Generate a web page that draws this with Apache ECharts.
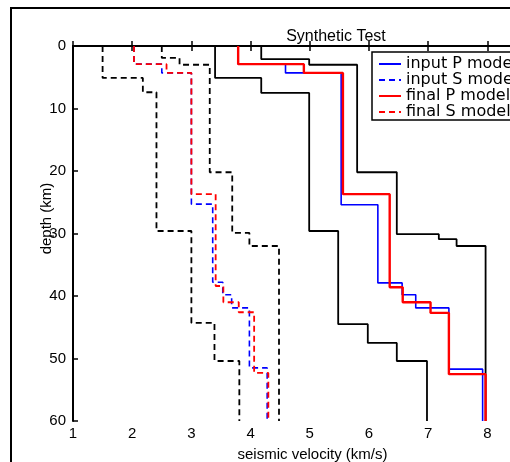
<!DOCTYPE html>
<html>
<head>
<meta charset="utf-8">
<script src="https://cdn.jsdelivr.net/npm/echarts@6/dist/echarts.min.js"></script>
<style>
    html, body { margin: 0; padding: 0; background: #fff; }
    #chart { width: 510px; height: 462px; }
</style>
</head>
<body>
<div id="chart"></div>
<script>
// layer velocities (km/s) and layer boundaries (km)
const inputPVel = [3.79, 4.59, 5.53, 6.15, 6.56, 6.79, 7.35, 7.92]
const inputPDepth = [0, 2.9, 4.3, 25.4, 37.9, 39.8, 41.9, 51.7, 60]
const finalPVel = [3.79, 4.9, 5.56, 6.35, 6.57, 7.04, 7.35, 7.97]
const finalPDepth = [0, 2.9, 4.3, 23.7, 38.6, 41.0, 42.7, 52.5, 60]
const inputSVel = [2.03, 2.5, 3.0, 3.36, 3.53, 3.68, 3.98, 4.28]
const inputSDepth = [0, 2.9, 4.3, 25.3, 37.8, 39.8, 41.9, 51.5, 60]
const finalSVel = [2.03, 2.58, 3.0, 3.41, 3.54, 3.8, 4.06, 4.3]
const finalSDepth = [0, 2.9, 4.3, 23.7, 38.4, 41.0, 42.6, 52.3, 60]
// search bounds
const pMinVel = [3.4, 4.18, 4.99, 5.48, 5.98, 6.47, 6.98]
const pMinDepth = [0, 5.1, 7.5, 29.6, 44.5, 47.5, 50.4, 60]
const pMaxVel = [4.18, 4.99, 5.8, 6.47, 7.18, 7.48, 7.97]
const pMaxDepth = [0, 2.1, 3.0, 20.2, 30.1, 30.9, 32.0, 60]
const sMinVel = [1.5, 2.18, 2.41, 3.0, 3.39, 3.81]
const sMinDepth = [0, 5.1, 7.4, 29.6, 44.3, 50.4, 60]
const sMaxVel = [2.5, 2.8, 3.31, 3.69, 3.98, 4.48]
const sMaxDepth = [0, 1.9, 3.0, 20.2, 29.9, 32.0, 60]

const legendNames = ['input P model', 'input S model', 'final P model', 'final S model']
const fontFamily = 'Liberation Sans, Arial, sans-serif'

// turn a layered model into a staircase polyline
function steps (vel, depth) {
    let pts = []
    vel.forEach((v, i) => {
        pts.push([v, depth[i]], [v, depth[i + 1]])
    })
    return pts
}

function model (name, vel, depth, color, width, dashed) {
    return {
        name: name,
        type: 'line',
        data: steps(vel, depth),
        symbol: 'none',
        silent: true,
        lineStyle: {
            color: color,
            width: width,
            type: dashed ? [6, 4] : 'solid'
        },
        itemStyle: { color: color }
    }
}

const chart = echarts.init(document.getElementById('chart'))
chart.setOption({
    animation: false,
    backgroundColor: '#fff',
    title: {
        text: 'Synthetic Test',
        left: 331,
        top: 24,
        textAlign: 'center',
        textStyle: { fontFamily: fontFamily, fontSize: 16, fontWeight: 'normal', color: '#000' }
    },
    graphic: [{
        type: 'rect',
        shape: { x: 11, y: 8, width: 620, height: 520 },
        style: { fill: 'none', stroke: '#000', lineWidth: 2 },
        silent: true
    }],
    legend: {
        data: legendNames,
        orient: 'vertical',
        left: 372,
        top: 52,
        padding: [4, 40, 0, 6],
        itemGap: 0,
        itemWidth: 22,
        itemHeight: 12,
        itemStyle: { opacity: 0 },
        backgroundColor: '#fff',
        borderColor: '#000',
        borderWidth: 1.5,
        borderRadius: 0,
        textStyle: { fontFamily: 'DejaVu Sans, sans-serif', fontSize: 16, lineHeight: 14, height: 14, color: '#000' }
    },
    grid: {
        left: 73,
        top: 46,
        bottom: 41,
        width: 515,
        outerBoundsMode: 'none',
        containLabel: false
    },
    xAxis: [{
        type: 'value',
        min: 1,
        max: 9.7,
        interval: 1,
        name: 'seismic velocity (km/s)',
        nameLocation: 'middle',
        nameGap: 26,
        nameTextStyle: { fontFamily: fontFamily, fontSize: 15, color: '#000', padding: [0, 36, 0, 0] },
        axisLine: { lineStyle: { color: '#000', width: 2 } },
        axisTick: { inside: true, length: 5, lineStyle: { color: '#000', width: 1.5 } },
        axisLabel: { fontFamily: fontFamily, fontSize: 15, color: '#000', margin: 5, showMaxLabel: false },
        splitLine: { show: false }
    }, {
        type: 'value',
        position: 'top',
        min: 1,
        max: 9.7,
        interval: 1,
        axisLine: { lineStyle: { color: '#000', width: 2 } },
        axisTick: { inside: true, length: 5, lineStyle: { color: '#000', width: 1.5 } },
        axisLabel: { show: false },
        splitLine: { show: false }
    }],
    yAxis: {
        type: 'value',
        inverse: true,
        min: 0,
        max: 60,
        interval: 10,
        name: 'depth (km)',
        nameLocation: 'middle',
        nameGap: 19,
        nameMoveOverlap: false,
        nameTextStyle: { fontFamily: fontFamily, fontSize: 15, color: '#000', padding: [0, 0, 0, 30] },
        axisLine: { lineStyle: { color: '#000', width: 2 } },
        axisTick: { inside: true, length: 5, lineStyle: { color: '#000', width: 1.5 } },
        axisLabel: { fontFamily: fontFamily, fontSize: 15, color: '#000', margin: 7 },
        splitLine: { show: false }
    },
    series: [
        model('P min', pMinVel, pMinDepth, '#000', 1.8, false),
        model('P max', pMaxVel, pMaxDepth, '#000', 1.8, false),
        model('S min', sMinVel, sMinDepth, '#000', 1.8, true),
        model('S max', sMaxVel, sMaxDepth, '#000', 1.8, true),
        model('input P model', inputPVel, inputPDepth, '#0000ff', 1.6, false),
        model('input S model', inputSVel, inputSDepth, '#0000ff', 1.6, true),
        model('final P model', finalPVel, finalPDepth, '#ff0000', 2.4, false),
        model('final S model', finalSVel, finalSDepth, '#ff0000', 1.8, true)
    ]
})
</script>
</body>
</html>
